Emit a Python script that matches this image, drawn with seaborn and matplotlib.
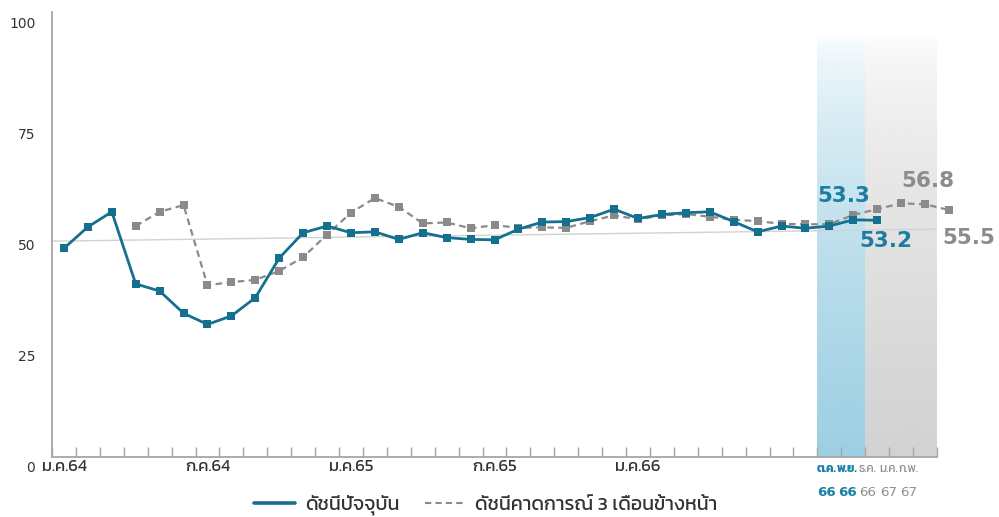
import numpy as np
import pandas as pd
import matplotlib
matplotlib.use("Agg")
import matplotlib.pyplot as plt
import matplotlib.colors as mcolors
from matplotlib import font_manager
from matplotlib.lines import Line2D
from matplotlib.transforms import ScaledTranslation
import seaborn as sns

# ---------------- data ----------------
months = ["ม.ค.64", "ก.พ.64", "มี.ค.64", "เม.ย.64", "พ.ค.64", "มิ.ย.64", "ก.ค.64", "ส.ค.64",
          "ก.ย.64", "ต.ค.64", "พ.ย.64", "ธ.ค.64",
          "ม.ค.65", "ก.พ.65", "มี.ค.65", "เม.ย.65", "พ.ค.65", "มิ.ย.65", "ก.ค.65", "ส.ค.65",
          "ก.ย.65", "ต.ค.65", "พ.ย.65", "ธ.ค.65",
          "ม.ค.66", "ก.พ.66", "มี.ค.66", "เม.ย.66", "พ.ค.66", "มิ.ย.66", "ก.ค.66", "ส.ค.66",
          "ก.ย.66", "ต.ค.66", "พ.ย.66", "ธ.ค.66", "ม.ค.67", "ก.พ.67"]

nan = np.nan
current_index = [46.9, 51.7, 55.1, 38.9, 37.3, 32.3, 29.8, 31.7, 35.8, 44.7, 50.4, 51.9,
                 50.4, 50.6, 48.9, 50.4, 49.3, 48.9, 48.8, 51.2, 52.8, 52.9, 53.8, 55.7,
                 53.6, 54.5, 54.9, 55.1, 52.9, 50.6, 51.9, 51.4, 51.9, 53.3, 53.2, nan, nan, nan]
expect_index = [nan, nan, nan, 51.9, 55.1, 56.6, 38.6, 39.3, 39.8, 41.8, 44.9, 50.0,
                54.9, 58.2, 56.2, 52.5, 52.7, 51.4, 52.1, 51.5, 51.6, 51.5, 53.0, 54.3,
                53.4, 54.3, 54.6, 54.0, 53.3, 53.0, 52.4, 52.3, 52.3, 54.4, 55.7, 57.0, 56.8, 55.5]
trend_values = [48.5, 51.2]

yticks = [0, 25, 50, 75, 100]
shown_tick_idx = [0, 6, 12, 18, 24]
end_top = ["ต.ค.", "พ.ย.", "ธ.ค.", "ม.ค.", "ก.พ."]
end_bottom = ["66", "66", "66", "67", "67"]
legend_labels = ["ดัชนีปัจจุบัน", "ดัชนีคาดการณ์ 3 เดือนข้างหน้า"]

# ---------------- fonts ----------------
def find_thai_fonts():
    try:
        from fontTools.ttLib import TTFont
    except Exception:
        return []
    found = []
    for fe in font_manager.fontManager.ttflist:
        try:
            tt = TTFont(fe.fname, fontNumber=0, lazy=True)
            cm = tt.getBestCmap() or {}
            if 0x0E14 in cm and 0x0E19 in cm and 0x0E31 in cm:
                if fe.name not in found:
                    found.append(fe.name)
        except Exception:
            pass
    return found

thai_fonts = find_thai_fonts()
pref = ["Kanit", "Prompt", "Noto Sans Thai", "Sarabun", "Noto Sans Thai UI", "Noto Sans Thai Looped"]
chosen = [f for f in pref if f in thai_fonts] + [f for f in thai_fonts if f not in pref]

sns.set_theme(style="white")
plt.rcParams["font.family"] = (chosen[:1] + ["Lato", "DejaVu Sans"])
NUMFONT = ["DejaVu Sans"]

BLUE = "#15708f"
GRAY = "#8a8a8a"
TXT = "#333333"

fig = plt.figure(figsize=(9.99, 5.17), dpi=100)
ax = fig.add_axes([52 / 999, 1 - 457 / 517, 885 / 999, 445 / 517])

x = np.arange(len(months))
df = pd.DataFrame({"x": x, "cur": current_index, "exp": expect_index})

# gradient bands
def band(x0, x1, color, top=95):
    rgb = np.array(mcolors.to_rgb(color))
    n = 256
    t = np.linspace(0, 1, n)
    alpha = (1 - t) ** 0.6
    img = np.zeros((n, 1, 4))
    img[:, 0, :3] = rgb
    img[:, 0, 3] = alpha
    ax.imshow(img, origin="lower", extent=(x0, x1, 0, top), aspect="auto",
              interpolation="bilinear", zorder=0)

band(31.5, 33.5, "#9ccfe3")
band(33.5, 36.5, "#d2d2d2")

# trend line
ax.plot([-0.5, 36.5], trend_values, color="#d2d2d2", lw=1.0, zorder=1)

sns.lineplot(data=df, x="x", y="exp", ax=ax, color=GRAY, lw=1.6, marker="s",
             markersize=5.2, markeredgewidth=0, linestyle=(0, (3, 2)),
             zorder=3, clip_on=False)
sns.lineplot(data=df, x="x", y="cur", ax=ax, color=BLUE, lw=2.0, marker="s",
             markersize=5.2, markeredgewidth=0, zorder=4, clip_on=False)

ax.set_xlim(-0.5, 36.5)
ax.set_ylim(0, 100)
ax.set_xlabel("")
ax.set_ylabel("")

# spines
for s in ["top", "right"]:
    ax.spines[s].set_visible(False)
for s in ["left", "bottom"]:
    ax.spines[s].set_color("#a6a6a6")
    ax.spines[s].set_linewidth(1.3)

# y ticks
ax.set_yticks(yticks)
ax.set_yticklabels([str(v) for v in yticks], family=NUMFONT)
ax.tick_params(axis="y", length=0, pad=12, labelsize=10, labelcolor=TXT)
for lab in ax.get_yticklabels():
    lab.set_transform(lab.get_transform() + ScaledTranslation(0, -10 / 100, fig.dpi_scale_trans))

# x ticks
ax.set_xticks(shown_tick_idx)
ax.set_xticklabels([months[i] for i in shown_tick_idx])
ax.set_xticks(np.arange(-0.5, 37, 1), minor=True)
ax.tick_params(axis="x", which="major", length=0, pad=2, labelsize=12, labelcolor=TXT)
ax.tick_params(axis="x", which="minor", direction="in", length=7.5, width=1.0,
               color="#a6a6a6", bottom=True)

# end labels (two-line, squeezed)
for k, (t1, t2) in enumerate(zip(end_top, end_bottom)):
    xp = 31.88 + k * 0.86
    col = "#1a80a6" if k < 2 else "#8f8f8f"
    wt = "bold" if k < 2 else "normal"
    ax.text(xp, -1.5, t1, ha="center", va="top", fontsize=8.5, color=col,
            fontweight=wt, clip_on=False)
    ax.text(xp, -6.5, t2, ha="center", va="top", fontsize=9.6, color=col,
            fontweight=wt, family=NUMFONT, clip_on=False)

# annotations
ann_blue = "#1a7ea3"
ann_kw = dict(textcoords="offset points", ha="center", va="center", fontsize=15.5,
              fontweight="bold", family=NUMFONT, annotation_clip=False)
ax.annotate(f"{current_index[33]:.1f}", xy=(33, current_index[33]), xytext=(-6.5, 17.5),
            color=ann_blue, **ann_kw)
ax.annotate(f"{current_index[34]:.1f}", xy=(34, current_index[34]), xytext=(6.5, -15),
            color=ann_blue, **ann_kw)
ax.annotate(f"{expect_index[36]:.1f}", xy=(36, expect_index[36]), xytext=(2, 17),
            color="#8c8c8c", **ann_kw)
ax.annotate(f"{expect_index[37]:.1f}", xy=(37, expect_index[37]), xytext=(14, -20),
            color="#8c8c8c", **ann_kw)

# legend
handles = [Line2D([0], [0], color=BLUE, lw=2.6),
           Line2D([0], [0], color=GRAY, lw=1.5, linestyle=(0, (3, 2)))]
fig.legend(handles, legend_labels, loc="center", bbox_to_anchor=(486 / 999, 1 - 505 / 517),
           ncol=2, frameon=False, fontsize=14, handlelength=2.1, columnspacing=1.3,
           handletextpad=0.5, labelcolor=TXT)

fig.savefig("out.png", dpi=100)
